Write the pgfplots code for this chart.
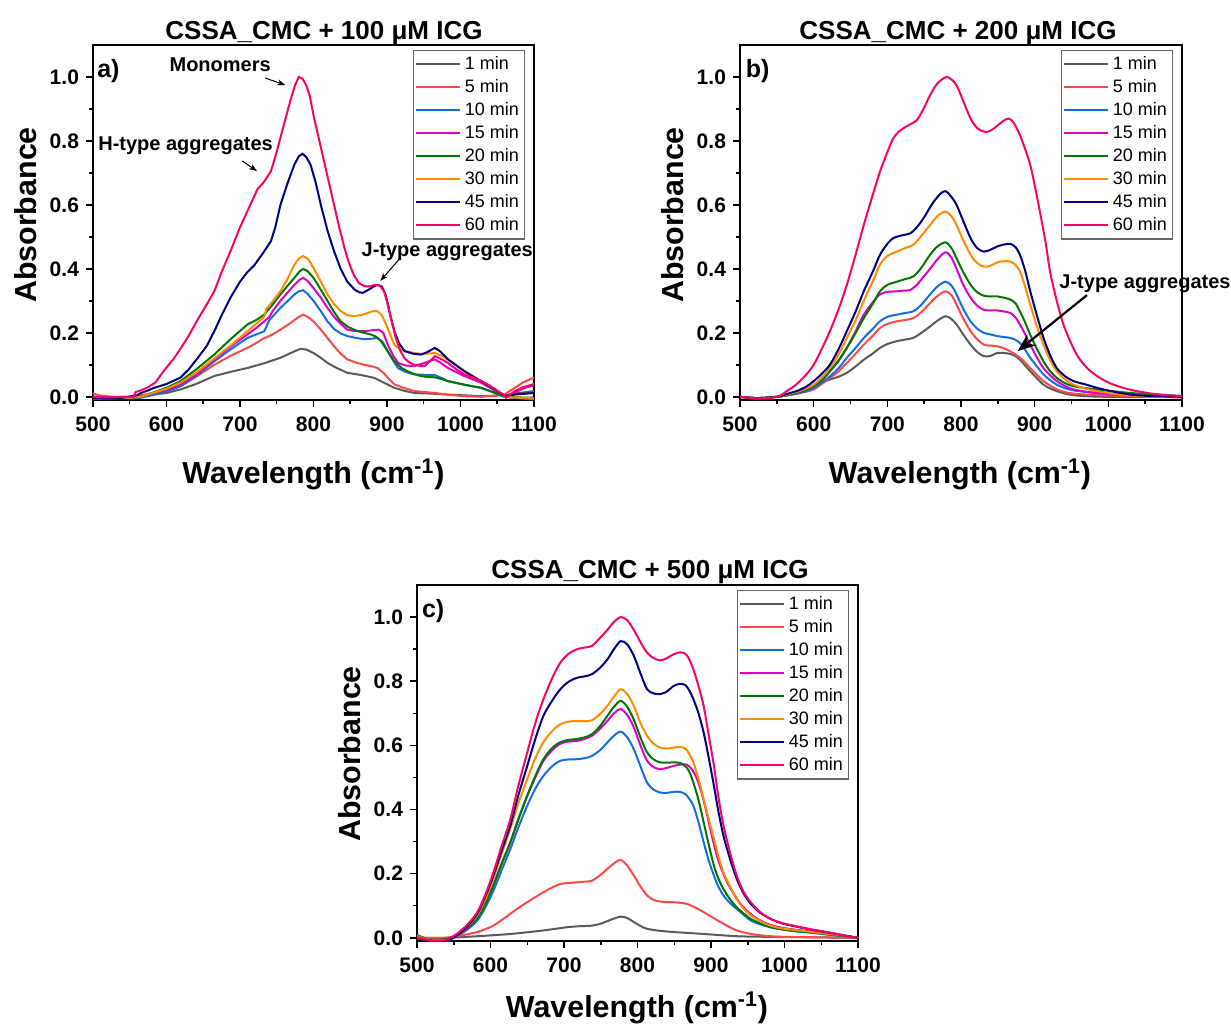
\documentclass[border=0pt]{standalone}
\usepackage{fontspec}
\setmainfont{Liberation Sans}
\usepackage{pgfplots}
\pgfplotsset{compat=1.18}
\usetikzlibrary{arrows.meta}

\definecolor{c1}{RGB}{90,90,90}
\definecolor{c5}{RGB}{255,72,72}
\definecolor{c10}{RGB}{20,110,225}
\definecolor{c15}{RGB}{220,0,200}
\definecolor{c20}{RGB}{0,120,0}
\definecolor{c30}{RGB}{255,140,0}
\definecolor{c45}{RGB}{0,0,130}
\definecolor{c60}{RGB}{255,0,102}

\pgfplotsset{
  spec/.style={
    scale only axis, width=220.5pt, height=177.5pt,
    xmin=500, xmax=1100, ymin=-0.01, ymax=1.1,
    xtick={500,600,700,800,900,1000,1100},
    ytick={0,0.2,0.4,0.6,0.8,1.0},
    minor x tick num=1, minor y tick num=1,
    tick align=outside, xtick pos=left, ytick pos=left,
    major tick length=3.5pt, minor tick length=2pt,
    axis line style={line width=0.75pt},
    every tick/.style={line width=0.75pt, black},
    tick label style={font=\fontsize{10.5}{12}\selectfont\bfseries},
    /pgf/number format/assume math mode=true,
    xticklabel style={/pgf/number format/1000 sep={}, yshift=-1.5pt},
    yticklabel style={/pgf/number format/.cd, fixed, fixed zerofill, precision=1},
    clip mode=individual,
    every axis plot/.append style={line width=1pt, no marks},
    legend cell align=left,
    legend image code/.code={\draw[##1] (0pt,0pt) -- (22pt,0pt);},
    legend style={at={(1,1)}, anchor=north east, xshift=-4.5pt, yshift=-2.5pt,
      draw=black!60, line width=0.6pt,
      font=\fontsize{9}{10}\selectfont,
      inner xsep=1pt, inner ysep=1pt,
      nodes={inner sep=1.75pt, text depth=0.15em}},
  },
}
\tikzset{
  ann/.style={font=\fontsize{10}{12}\selectfont\bfseries, anchor=base},
  plab/.style={font=\fontsize{12.5}{14}\selectfont\bfseries},
}

\begin{document}
\begin{tikzpicture}
\path[use as bounding box] (0,0) rectangle (615.5pt,-512pt);

% ---------------- a) 100 uM ----------------
\begin{axis}[spec, at={(46.5pt,-200pt)}, anchor=south west]
\addplot[c1] coordinates {(500,0.0)(550,0.0)(575,0.005)(600,0.012)(619,0.023)(640,0.04)(665,0.065)(687,0.078)(710,0.09)(733,0.105)(755,0.122)(770,0.138)(782,0.15)(790,0.148)(800,0.137)(810,0.122)(819,0.106)(830,0.092)(846,0.075)(865,0.068)(883,0.059)(895,0.045)(910,0.028)(925,0.018)(937,0.012)(960,0.01)(983,0.007)(1028,0.002)(1060,0.005)(1080,0.012)(1100,0.018)};
\addplot[c5] coordinates {(500,0.01)(510,0.004)(525,0.0)(540,-0.002)(555,-0.003)(558,0.003)(575,0.008)(600,0.018)(619,0.033)(640,0.062)(665,0.10)(687,0.128)(710,0.153)(722,0.168)(733,0.184)(740,0.19)(745,0.196)(755,0.21)(765,0.225)(774,0.24)(780,0.25)(786,0.257)(792,0.25)(800,0.236)(810,0.21)(819,0.184)(828,0.158)(837,0.135)(846,0.117)(858,0.107)(869,0.10)(880,0.095)(887,0.09)(895,0.075)(903,0.055)(910,0.039)(920,0.03)(937,0.018)(965,0.012)(985,0.006)(1005,0.002)(1028,0.0)(1045,0.003)(1060,0.008)(1074,0.028)(1085,0.045)(1100,0.06)};
\addplot[c10] coordinates {(500,-0.005)(555,-0.005)(565,-0.003)(580,0.005)(600,0.017)(619,0.033)(640,0.065)(665,0.111)(687,0.148)(710,0.184)(722,0.195)(733,0.205)(736,0.22)(740,0.24)(755,0.278)(765,0.30)(774,0.32)(780,0.33)(786,0.333)(792,0.322)(800,0.30)(810,0.268)(819,0.236)(828,0.212)(837,0.198)(846,0.19)(858,0.184)(869,0.18)(880,0.182)(887,0.184)(894,0.172)(901,0.143)(908,0.115)(915,0.09)(925,0.078)(937,0.07)(950,0.069)(965,0.068)(975,0.058)(983,0.049)(1005,0.038)(1028,0.028)(1045,0.014)(1060,0.0)(1080,-0.005)(1100,-0.008)};
\addplot[c15] coordinates {(500,-0.003)(555,-0.003)(565,0.0)(580,0.01)(600,0.022)(619,0.039)(640,0.07)(665,0.117)(687,0.157)(710,0.195)(722,0.215)(733,0.236)(740,0.25)(745,0.27)(755,0.30)(765,0.327)(774,0.35)(781,0.366)(786,0.372)(792,0.362)(800,0.34)(810,0.31)(819,0.278)(828,0.25)(837,0.228)(846,0.21)(855,0.206)(869,0.205)(880,0.208)(889,0.21)(895,0.2)(901,0.163)(908,0.13)(915,0.106)(925,0.098)(937,0.096)(950,0.105)(958,0.112)(965,0.117)(972,0.108)(983,0.09)(1005,0.065)(1028,0.044)(1045,0.022)(1060,0.0)(1075,0.015)(1090,0.03)(1100,0.035)};
\addplot[c20] coordinates {(500,-0.002)(550,-0.003)(565,0.0)(580,0.012)(600,0.028)(619,0.049)(640,0.085)(665,0.132)(687,0.18)(710,0.226)(722,0.24)(733,0.257)(745,0.29)(755,0.32)(765,0.348)(774,0.372)(781,0.392)(786,0.40)(792,0.393)(800,0.372)(810,0.335)(819,0.30)(828,0.265)(837,0.236)(846,0.22)(855,0.21)(865,0.202)(878,0.195)(885,0.188)(892,0.174)(900,0.145)(910,0.111)(920,0.09)(928,0.08)(937,0.071)(946,0.065)(955,0.062)(965,0.061)(975,0.055)(983,0.049)(1005,0.038)(1028,0.028)(1045,0.014)(1060,0.0)(1080,-0.002)(1100,-0.003)};
\addplot[c30] coordinates {(500,-0.005)(550,-0.003)(565,0.0)(574,0.007)(600,0.025)(619,0.044)(640,0.075)(665,0.12)(687,0.16)(710,0.205)(728,0.24)(733,0.25)(736,0.275)(745,0.30)(755,0.33)(765,0.37)(774,0.413)(780,0.432)(786,0.44)(793,0.43)(800,0.403)(810,0.36)(819,0.32)(828,0.29)(837,0.268)(846,0.255)(855,0.252)(865,0.256)(874,0.262)(881,0.268)(887,0.268)(893,0.255)(900,0.22)(905,0.19)(910,0.163)(917,0.15)(924,0.143)(935,0.138)(946,0.134)(955,0.135)(965,0.137)(975,0.128)(983,0.117)(1005,0.082)(1028,0.049)(1045,0.025)(1060,0.0)(1080,-0.003)(1100,-0.005)};
\addplot[c45] coordinates {(500,-0.003)(540,-0.003)(560,0.005)(565,0.012)(575,0.02)(583,0.028)(600,0.04)(619,0.06)(630,0.085)(642,0.12)(655,0.16)(665,0.205)(675,0.255)(687,0.31)(700,0.36)(710,0.39)(719,0.41)(730,0.445)(742,0.486)(748,0.53)(755,0.60)(765,0.67)(774,0.726)(780,0.752)(785,0.76)(790,0.75)(796,0.726)(803,0.67)(810,0.60)(819,0.52)(828,0.455)(837,0.40)(846,0.36)(856,0.335)(862,0.327)(867,0.325)(875,0.335)(882,0.345)(887,0.35)(893,0.345)(898,0.32)(904,0.26)(910,0.205)(917,0.165)(924,0.143)(935,0.135)(946,0.132)(955,0.14)(965,0.153)(972,0.143)(983,0.117)(1005,0.08)(1028,0.049)(1045,0.025)(1060,0.002)(1074,0.007)(1100,0.012)};
\addplot[c60] coordinates {(500,0.0)(520,-0.002)(540,0.0)(555,0.0)(558,0.015)(565,0.02)(575,0.03)(585,0.045)(596,0.08)(610,0.12)(619,0.15)(630,0.19)(642,0.24)(655,0.29)(665,0.33)(675,0.39)(687,0.455)(700,0.53)(710,0.58)(718,0.62)(724,0.65)(732,0.67)(742,0.705)(748,0.75)(755,0.81)(762,0.87)(769,0.93)(775,0.975)(780,1.0)(785,0.995)(790,0.975)(795,0.94)(800,0.88)(808,0.80)(815,0.73)(822,0.66)(828,0.60)(835,0.53)(842,0.466)(848,0.42)(855,0.38)(862,0.355)(869,0.346)(876,0.345)(883,0.35)(890,0.348)(896,0.33)(901,0.29)(906,0.24)(912,0.184)(918,0.145)(924,0.12)(930,0.108)(937,0.10)(945,0.097)(951,0.096)(958,0.11)(965,0.127)(972,0.12)(983,0.106)(995,0.085)(1005,0.07)(1017,0.06)(1028,0.05)(1040,0.035)(1051,0.018)(1058,0.008)(1062,-0.003)(1068,0.008)(1074,0.018)(1085,0.03)(1100,0.04)};
\legend{1 min,5 min,10 min,15 min,20 min,30 min,45 min,60 min}
\node[plab] at (axis cs:521,1.018) {a)};
\node[ann] at (axis cs:673,1.018) {Monomers};
\draw[line width=0.5pt,-{Stealth[length=4pt,width=3pt]}] (axis cs:734,0.997) -- (axis cs:761.5,0.975);
\node[ann] at (axis cs:626,0.769) {H-type aggregates};
\draw[line width=0.5pt,-{Stealth[length=4pt,width=3pt]}] (axis cs:703,0.7375) -- (axis cs:723,0.706);
\node[ann] at (axis cs:982,0.439) {J-type aggregates};
\draw[line width=0.5pt,-{Stealth[length=4pt,width=3pt]}] (axis cs:918,0.434) -- (axis cs:891,0.3625);
\end{axis}

% ---------------- b) 200 uM ----------------
\begin{axis}[spec, width=221pt, at={(370pt,-200pt)}, anchor=south west]
\addplot[c1,smooth] coordinates {(500,0.0)(523,-0.004)(550,0.0)(565,0.006)(577,0.012)(590,0.022)(600,0.033)(611,0.044)(622,0.054)(634,0.063)(645,0.075)(657,0.095)(668,0.116)(680,0.135)(690,0.153)(700,0.165)(713,0.174)(724,0.179)(735,0.184)(745,0.198)(758,0.22)(768,0.238)(779,0.252)(787,0.243)(794,0.226)(803,0.195)(813,0.163)(822,0.14)(831,0.127)(840,0.128)(849,0.137)(858,0.137)(867,0.134)(874,0.127)(880,0.116)(887,0.098)(894,0.08)(903,0.058)(912,0.038)(921,0.026)(930,0.018)(941,0.01)(953,0.005)(970,0.002)(1000,0.0)(1100,0.0)};
\addplot[c5,smooth] coordinates {(500,0.0)(523,-0.004)(550,0.0)(565,0.005)(577,0.01)(590,0.016)(600,0.023)(611,0.04)(622,0.059)(634,0.08)(645,0.106)(657,0.135)(668,0.163)(680,0.19)(690,0.215)(700,0.228)(713,0.236)(724,0.24)(735,0.246)(745,0.262)(758,0.293)(768,0.315)(779,0.33)(787,0.318)(794,0.288)(803,0.245)(813,0.205)(822,0.18)(831,0.163)(840,0.16)(849,0.158)(858,0.152)(867,0.142)(874,0.132)(880,0.122)(887,0.107)(894,0.09)(903,0.069)(912,0.049)(921,0.035)(930,0.023)(941,0.015)(953,0.01)(970,0.007)(1000,0.004)(1050,0.001)(1100,0.0)};
\addplot[c10,smooth] coordinates {(500,0.0)(523,-0.004)(550,0.0)(565,0.005)(577,0.01)(590,0.018)(600,0.028)(611,0.045)(622,0.064)(634,0.09)(645,0.122)(657,0.153)(668,0.184)(680,0.212)(690,0.236)(700,0.25)(713,0.257)(724,0.262)(735,0.267)(745,0.285)(758,0.32)(768,0.345)(779,0.36)(787,0.348)(794,0.32)(803,0.275)(813,0.236)(822,0.213)(831,0.20)(840,0.195)(849,0.19)(858,0.187)(867,0.184)(874,0.178)(880,0.168)(887,0.147)(894,0.122)(903,0.095)(912,0.07)(921,0.052)(930,0.038)(941,0.027)(953,0.02)(970,0.015)(985,0.012)(1005,0.008)(1030,0.005)(1060,0.003)(1100,0.0)};
\addplot[c15,smooth] coordinates {(500,0.0)(523,-0.004)(550,0.0)(565,0.006)(577,0.013)(590,0.022)(600,0.033)(611,0.052)(622,0.08)(634,0.115)(645,0.153)(657,0.205)(668,0.257)(680,0.295)(690,0.32)(700,0.328)(713,0.33)(722,0.332)(731,0.334)(740,0.35)(749,0.375)(758,0.40)(768,0.43)(779,0.452)(787,0.435)(794,0.40)(803,0.35)(813,0.31)(822,0.285)(831,0.272)(840,0.27)(849,0.27)(858,0.267)(867,0.262)(874,0.248)(880,0.226)(887,0.196)(894,0.163)(903,0.123)(912,0.09)(921,0.067)(930,0.049)(941,0.034)(953,0.023)(970,0.016)(985,0.012)(1005,0.008)(1030,0.005)(1060,0.002)(1100,-0.002)};
\addplot[c20,smooth] coordinates {(500,0.0)(523,-0.004)(550,0.0)(565,0.006)(577,0.013)(590,0.022)(600,0.033)(611,0.052)(622,0.08)(634,0.113)(645,0.153)(657,0.2)(668,0.246)(680,0.29)(690,0.33)(700,0.35)(713,0.36)(724,0.368)(735,0.376)(745,0.4)(758,0.444)(768,0.47)(779,0.483)(787,0.465)(794,0.433)(803,0.39)(813,0.35)(822,0.327)(831,0.316)(840,0.314)(849,0.314)(858,0.31)(867,0.304)(874,0.292)(880,0.267)(887,0.233)(894,0.194)(903,0.15)(912,0.111)(921,0.08)(930,0.059)(941,0.043)(953,0.033)(970,0.027)(985,0.023)(1005,0.018)(1030,0.012)(1060,0.008)(1100,0.003)};
\addplot[c30,smooth] coordinates {(500,0.0)(523,-0.004)(550,0.0)(565,0.008)(577,0.015)(590,0.026)(600,0.038)(611,0.06)(622,0.09)(634,0.133)(645,0.184)(657,0.24)(668,0.30)(680,0.36)(690,0.413)(700,0.44)(713,0.454)(724,0.465)(735,0.475)(745,0.5)(758,0.537)(768,0.565)(779,0.579)(787,0.565)(794,0.537)(803,0.49)(813,0.444)(822,0.418)(831,0.407)(840,0.41)(849,0.42)(858,0.424)(867,0.423)(874,0.412)(880,0.392)(887,0.345)(894,0.288)(903,0.22)(912,0.163)(921,0.115)(930,0.08)(941,0.055)(953,0.038)(970,0.025)(985,0.018)(1005,0.01)(1030,0.004)(1060,0.0)(1100,-0.002)};
\addplot[c45,smooth] coordinates {(500,0.0)(523,-0.004)(550,0.0)(565,0.01)(577,0.018)(590,0.032)(600,0.049)(611,0.072)(622,0.10)(634,0.15)(645,0.205)(657,0.267)(668,0.33)(680,0.39)(690,0.444)(700,0.478)(708,0.496)(720,0.505)(731,0.511)(740,0.53)(749,0.558)(756,0.585)(763,0.61)(772,0.635)(779,0.643)(787,0.625)(794,0.60)(803,0.55)(813,0.496)(822,0.465)(831,0.454)(840,0.46)(849,0.47)(858,0.476)(867,0.478)(874,0.468)(880,0.444)(887,0.395)(894,0.33)(903,0.255)(912,0.184)(921,0.13)(930,0.09)(941,0.065)(953,0.049)(970,0.038)(985,0.028)(1005,0.017)(1030,0.007)(1060,0.002)(1100,0.0)};
\addplot[c60,smooth] coordinates {(500,0.0)(523,-0.005)(550,0.0)(565,0.02)(577,0.04)(590,0.07)(600,0.10)(611,0.15)(622,0.205)(634,0.275)(645,0.35)(657,0.445)(668,0.537)(680,0.63)(690,0.704)(700,0.765)(708,0.808)(715,0.828)(722,0.84)(731,0.852)(740,0.865)(749,0.9)(758,0.943)(768,0.98)(780,1.0)(787,0.992)(794,0.974)(803,0.925)(813,0.87)(822,0.84)(830,0.83)(835,0.828)(842,0.835)(849,0.847)(857,0.862)(865,0.87)(872,0.855)(880,0.818)(887,0.775)(894,0.725)(901,0.65)(908,0.568)(915,0.48)(921,0.39)(930,0.30)(939,0.226)(948,0.175)(957,0.132)(966,0.103)(976,0.08)(990,0.057)(1007,0.038)(1030,0.022)(1053,0.012)(1075,0.006)(1100,0.002)};
\legend{1 min,5 min,10 min,15 min,20 min,30 min,45 min,60 min}
\node[plab] at (axis cs:524,1.018) {b)};
\node[ann] at (axis cs:1049.8,0.339) {J-type aggregates};
\draw[line width=1.1pt,-{Stealth[length=9pt,width=7pt]}] (axis cs:971,0.318) -- (axis cs:877,0.143);
\end{axis}

% ---------------- c) 500 uM ----------------
\begin{axis}[spec, height=178pt, at={(208.5pt,-470.5pt)}, anchor=south west]
\addplot[c1,smooth] coordinates {(500,0.0)(540,0.0)(582,0.005)(627,0.012)(672,0.023)(704,0.033)(720,0.036)(738,0.038)(750,0.044)(759,0.052)(768,0.06)(777,0.066)(786,0.062)(795,0.049)(804,0.037)(813,0.028)(830,0.022)(849,0.018)(870,0.015)(890,0.012)(935,0.005)(980,0.003)(1100,0.0)};
\addplot[c5,smooth] coordinates {(500,0.0)(536,0.0)(554,0.005)(568,0.011)(582,0.018)(593,0.027)(604,0.038)(615,0.055)(627,0.075)(638,0.093)(650,0.111)(661,0.127)(672,0.142)(684,0.157)(695,0.168)(706,0.171)(718,0.173)(728,0.175)(738,0.178)(749,0.195)(759,0.215)(768,0.232)(777,0.243)(786,0.225)(795,0.194)(804,0.16)(813,0.132)(822,0.118)(831,0.113)(840,0.111)(849,0.111)(858,0.109)(867,0.106)(878,0.095)(890,0.08)(901,0.065)(913,0.049)(924,0.035)(935,0.023)(950,0.014)(963,0.009)(980,0.005)(1000,0.003)(1100,0.0)};
\addplot[c10,smooth] coordinates {(500,-0.002)(518,-0.008)(536,-0.01)(545,-0.006)(554,0.005)(568,0.025)(582,0.054)(593,0.095)(604,0.147)(615,0.21)(627,0.277)(638,0.345)(650,0.412)(661,0.465)(672,0.505)(684,0.535)(695,0.552)(706,0.556)(718,0.557)(728,0.56)(738,0.567)(749,0.585)(759,0.609)(768,0.63)(777,0.643)(786,0.625)(795,0.588)(804,0.535)(813,0.484)(822,0.462)(831,0.453)(840,0.452)(849,0.455)(858,0.455)(865,0.448)(870,0.435)(876,0.412)(883,0.36)(890,0.298)(897,0.24)(904,0.194)(910,0.16)(917,0.132)(926,0.108)(935,0.09)(944,0.073)(954,0.054)(967,0.042)(981,0.033)(995,0.027)(1012,0.021)(1035,0.016)(1058,0.01)(1080,0.005)(1100,0.0)};
\addplot[c15,smooth] coordinates {(500,0.0)(518,-0.008)(536,-0.01)(545,-0.004)(554,0.006)(568,0.028)(582,0.062)(593,0.108)(604,0.165)(615,0.23)(627,0.298)(638,0.37)(650,0.443)(661,0.50)(672,0.552)(684,0.585)(695,0.605)(706,0.612)(718,0.614)(728,0.62)(738,0.63)(749,0.652)(759,0.676)(768,0.7)(777,0.713)(786,0.695)(795,0.656)(804,0.6)(813,0.552)(822,0.532)(831,0.526)(840,0.53)(849,0.536)(858,0.54)(867,0.54)(874,0.525)(881,0.495)(888,0.445)(894,0.39)(901,0.32)(908,0.256)(915,0.21)(922,0.173)(931,0.137)(940,0.106)(951,0.08)(963,0.059)(981,0.04)(1000,0.03)(1020,0.024)(1040,0.018)(1060,0.012)(1080,0.006)(1100,0.0)};
\addplot[c20,smooth] coordinates {(500,0.009)(510,0.0)(518,-0.005)(536,-0.005)(545,0.0)(554,0.008)(568,0.03)(582,0.059)(593,0.105)(604,0.163)(615,0.23)(627,0.298)(638,0.37)(650,0.443)(661,0.505)(672,0.557)(684,0.592)(695,0.61)(706,0.617)(718,0.62)(728,0.625)(738,0.635)(749,0.66)(759,0.692)(768,0.72)(777,0.739)(786,0.72)(795,0.68)(804,0.625)(813,0.578)(822,0.556)(831,0.547)(840,0.546)(849,0.547)(858,0.545)(865,0.535)(870,0.52)(876,0.484)(883,0.43)(890,0.36)(897,0.29)(904,0.225)(910,0.185)(917,0.152)(926,0.12)(935,0.095)(944,0.077)(954,0.059)(967,0.045)(981,0.033)(995,0.027)(1012,0.022)(1035,0.017)(1058,0.012)(1080,0.006)(1100,0.0)};
\addplot[c30,smooth] coordinates {(500,0.005)(518,-0.006)(536,-0.008)(545,-0.002)(554,0.01)(568,0.035)(582,0.07)(593,0.12)(604,0.184)(615,0.26)(627,0.34)(638,0.42)(650,0.495)(661,0.56)(672,0.61)(684,0.645)(695,0.666)(706,0.674)(718,0.676)(728,0.676)(738,0.678)(749,0.698)(759,0.723)(768,0.752)(777,0.775)(786,0.76)(795,0.723)(804,0.67)(813,0.63)(822,0.605)(831,0.593)(840,0.59)(849,0.593)(858,0.595)(865,0.59)(870,0.575)(876,0.547)(883,0.495)(890,0.433)(897,0.37)(904,0.308)(910,0.255)(917,0.204)(926,0.16)(935,0.121)(944,0.092)(954,0.07)(967,0.052)(981,0.038)(995,0.03)(1012,0.025)(1035,0.019)(1058,0.013)(1080,0.007)(1100,0.0)};
\addplot[c45,smooth] coordinates {(500,0.0)(518,-0.008)(536,-0.01)(545,-0.004)(554,0.008)(568,0.035)(582,0.075)(593,0.13)(604,0.194)(615,0.27)(627,0.35)(638,0.445)(650,0.536)(661,0.62)(672,0.692)(684,0.74)(695,0.775)(706,0.798)(718,0.811)(728,0.815)(738,0.822)(749,0.842)(759,0.868)(768,0.9)(777,0.925)(786,0.915)(795,0.879)(804,0.825)(813,0.775)(822,0.762)(831,0.76)(840,0.768)(849,0.785)(858,0.792)(865,0.788)(870,0.773)(876,0.744)(883,0.7)(890,0.64)(897,0.56)(904,0.474)(910,0.395)(917,0.318)(926,0.245)(935,0.184)(944,0.14)(954,0.106)(967,0.078)(981,0.059)(995,0.046)(1012,0.037)(1035,0.026)(1058,0.017)(1080,0.008)(1100,0.0)};
\addplot[c60,smooth] coordinates {(500,0.002)(518,-0.008)(536,-0.008)(545,0.0)(554,0.012)(568,0.04)(582,0.08)(593,0.135)(604,0.204)(615,0.285)(627,0.37)(638,0.475)(650,0.578)(661,0.67)(672,0.744)(684,0.81)(695,0.858)(706,0.885)(718,0.90)(728,0.905)(738,0.91)(749,0.935)(759,0.96)(768,0.985)(777,1.0)(786,0.99)(795,0.96)(804,0.922)(813,0.889)(822,0.872)(831,0.865)(840,0.872)(849,0.884)(858,0.89)(865,0.886)(870,0.87)(876,0.837)(883,0.785)(890,0.723)(897,0.63)(904,0.536)(910,0.44)(917,0.35)(926,0.265)(935,0.194)(944,0.145)(954,0.111)(967,0.08)(981,0.059)(995,0.047)(1012,0.038)(1035,0.027)(1058,0.018)(1080,0.008)(1100,0.0)};
\legend{1 min,5 min,10 min,15 min,20 min,30 min,45 min,60 min}
\node[plab] at (axis cs:522,1.018) {c)};
\end{axis}

% ---------------- titles and axis labels ----------------
\begin{scope}[x=0.5pt,y=-0.5pt]
\node[anchor=base, font=\fontsize{13}{15}\selectfont\bfseries] at (324,39.5) {CSSA\_CMC + 100 μM ICG};
\node[anchor=base, font=\fontsize{13}{15}\selectfont\bfseries] at (958,39.5) {CSSA\_CMC + 200 μM ICG};
\node[anchor=base, font=\fontsize{13}{15}\selectfont\bfseries] at (650,578.5) {CSSA\_CMC + 500 μM ICG};
\node[anchor=base, font=\fontsize{15.2}{17}\selectfont\bfseries] at (313.5,483.5) {Wavelength (cm\textsuperscript{-1})};
\node[anchor=base, font=\fontsize{15.2}{17}\selectfont\bfseries] at (960,483.5) {Wavelength (cm\textsuperscript{-1})};
\node[anchor=base, font=\fontsize{15.2}{17}\selectfont\bfseries] at (637,1017) {Wavelength (cm\textsuperscript{-1})};
\node[anchor=base, rotate=90, font=\fontsize{15.2}{17}\selectfont\bfseries] at (36,215) {Absorbance};
\node[anchor=base, rotate=90, font=\fontsize{15.2}{17}\selectfont\bfseries] at (683,215) {Absorbance};
\node[anchor=base, rotate=90, font=\fontsize{15.2}{17}\selectfont\bfseries] at (360,754) {Absorbance};
\end{scope}
\end{tikzpicture}
\end{document}
